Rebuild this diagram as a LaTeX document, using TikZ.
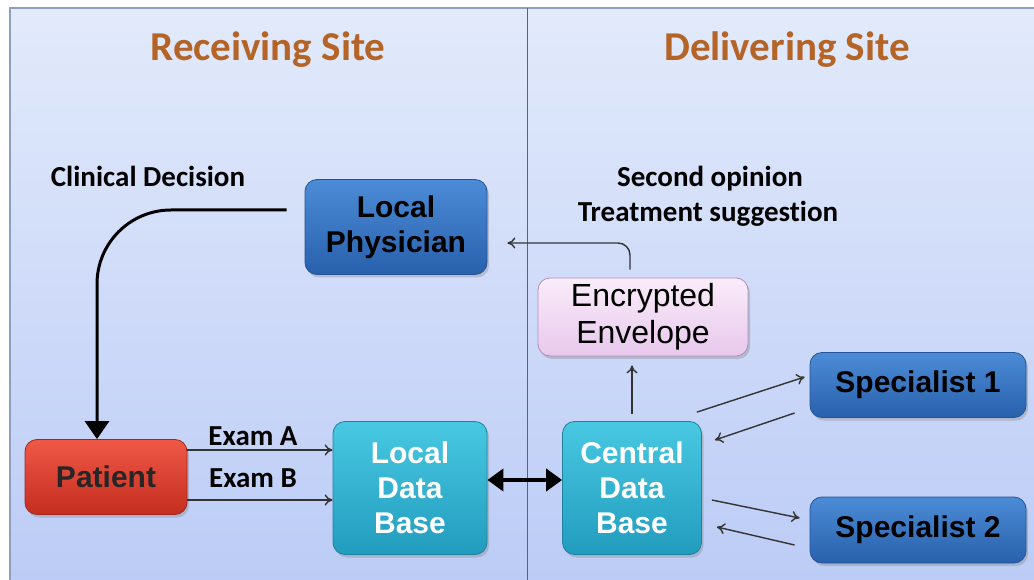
\documentclass[tikz,border=0pt]{standalone}
\usepackage{fontspec}
\setmainfont{Liberation Sans}
\newfontfamily\calib[Ligatures=NoCommon]{Carlito}
\usetikzlibrary{arrows.meta,shadows,calc}
\definecolor{panelTop}{RGB}{226,234,251}
\definecolor{panelBot}{RGB}{188,204,246}
\definecolor{frame}{RGB}{140,160,190}
\definecolor{divider}{RGB}{80,100,140}
\definecolor{titleOr}{RGB}{180,100,38}
\definecolor{blueTop}{RGB}{76,140,214}
\definecolor{blueBot}{RGB}{40,96,172}
\definecolor{blueLine}{RGB}{36,84,150}
\definecolor{redTop}{RGB}{240,88,70}
\definecolor{redBot}{RGB}{196,46,32}
\definecolor{redLine}{RGB}{160,40,30}
\definecolor{tealTop}{RGB}{72,200,226}
\definecolor{tealBot}{RGB}{34,156,190}
\definecolor{tealLine}{RGB}{30,130,160}
\definecolor{pinkTop}{RGB}{250,236,250}
\definecolor{pinkBot}{RGB}{232,200,236}
\definecolor{pinkLine}{RGB}{176,144,184}
\tikzset{
  box/.style={rectangle, rounded corners=12pt, align=center, line width=0.8pt,
    drop shadow={shadow xshift=2pt, shadow yshift=-3pt, opacity=0.35},
    font=\fontsize{30}{35}\selectfont\bfseries},
  bluebox/.style={box, draw=blueLine, top color=blueTop, bottom color=blueBot, text=black},
  redbox/.style={box, draw=redLine, top color=redTop, bottom color=redBot, text=black!85},
  tealbox/.style={box, draw=tealLine, top color=tealTop, bottom color=tealBot, text=white},
  pinkbox/.style={box, draw=pinkLine, top color=pinkTop, bottom color=pinkBot, text=black,
    font=\fontsize{32}{37}\selectfont},
  sitetitle/.style={font=\calib\fontsize{41}{44}\selectfont\bfseries, text=titleOr},
  lbl/.style={font=\calib\fontsize{29}{36}\selectfont\bfseries, text=black, align=center},
  thinarrow/.style={-{To[length=8pt,width=11pt]}, line width=1.4pt, draw=black!80},
  bigarrow/.style={-{Triangle[length=18pt,width=24pt]}, line width=3pt, draw=black},
  duoarrow/.style={{Triangle[length=16pt,width=22pt]}-{Triangle[length=16pt,width=22pt]}, line width=4pt, draw=black}
}
\begin{document}
\begin{tikzpicture}[x=1pt,y=-1pt]
\useasboundingbox (0,0) rectangle (1034,580);
% panel background and frame
\shade[top color=panelTop, bottom color=panelBot] (10,8) rectangle (1034,580);
\draw[frame, line width=2pt] (10,580) -- (10,8) -- (1034,8);
\draw[divider, line width=1pt] (527,8) -- (527,580);

% site titles
\node[sitetitle] (recv) at (268,50) {Receiving Site};
\node[sitetitle] (deliv) at (787,50) {Delivering Site};

% nodes
\node[bluebox, minimum width=182pt, minimum height=95pt] (LP) at (396,227) {Local\\Physician};
\node[redbox, minimum width=162pt, minimum height=75pt] (P) at (106,477) {Patient};
\node[tealbox, minimum width=154pt, minimum height=133pt] (LDB) at (410,488) {Local\\Data\\Base};
\node[tealbox, minimum width=139pt, minimum height=133pt] (CDB) at (632,488) {Central\\Data\\Base};
\node[pinkbox, minimum width=210pt, minimum height=78pt] (ENV) at (643,317) {Encrypted\\Envelope};
\node[bluebox, minimum width=216pt, minimum height=65pt] (S1) at (918,385) {Specialist 1};
\node[bluebox, minimum width=216pt, minimum height=66pt] (S2) at (918,530) {Specialist 2};

% text labels
\node[lbl] (cdlbl) at (148,176) {Clinical Decision};
\node[lbl] (sop) at (710,179) {Second opinion};
\node[lbl] (tsug) at (708,214) {Treatment suggestion};

% clinical decision back to the patient
\coordinate (cdstart) at ($(LP.west)+(-18,-17)$);
\coordinate (cdend) at ($(P.north)+(-9,0)$);
\draw[bigarrow, rounded corners=74pt] (cdstart) -| (cdend);

% exams from patient to local data base
\coordinate (exAs) at ($(P.east)+(0,-27)$);
\coordinate (exBs) at ($(P.east)+(0,23)$);
\draw[thinarrow] (exAs) -- (exAs -| LDB.west)
  node[lbl, midway, above=0pt, xshift=-7pt] (exA) {Exam A};
\draw[thinarrow] (exBs) -- (exBs -| LDB.west)
  node[lbl, midway, above=8pt, xshift=-7pt] (exB) {Exam B};

% data base exchange
\coordinate (dbl) at ($(LDB.east)+(0,-8)$);
\draw[duoarrow] (dbl) -- (dbl -| CDB.west);

% central data base to envelope, envelope back to physician
\draw[thinarrow] ($(CDB.north)+(0,-7)$) -- ($(ENV.south)+(-11,9)$);
\draw[thinarrow, rounded corners=12pt] ($(ENV.north)+(-13,-8)$) |- ($(LP.east)+(20,16)$);

% specialists
\draw[thinarrow] ($(CDB.north east)+(-5,-9)$) -- ($(S1.west)+(-5,-8)$);
\draw[thinarrow] ($(S1.west)+(-15,28)$) -- ($(CDB.east)+(13,-48)$);
\draw[thinarrow] ($(CDB.east)+(10,12)$) -- ($(S2.west)+(-10,-12)$);
\draw[thinarrow] ($(S2.west)+(-15,15)$) -- ($(CDB.east)+(15,39)$);
\end{tikzpicture}
\end{document}
